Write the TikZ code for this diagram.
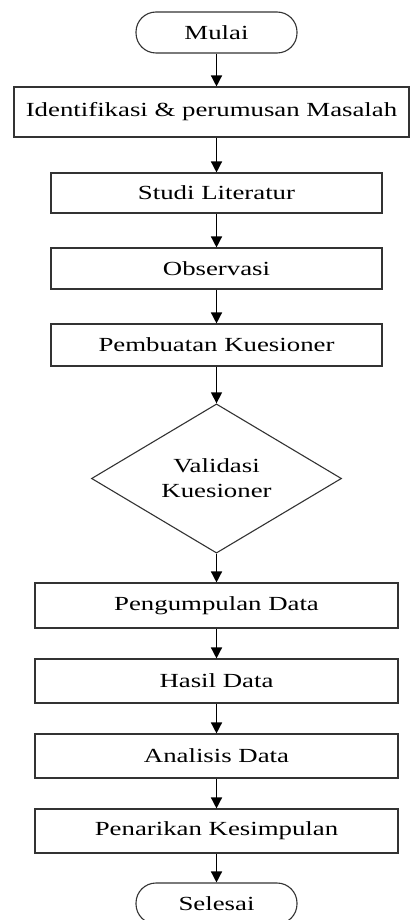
\documentclass[tikz,border=0pt]{standalone}
\usepackage{fontspec}
\setmainfont{Liberation Serif}[FakeStretch=1.34]
\usetikzlibrary{shapes.geometric,arrows.meta}

\begin{document}
\begin{tikzpicture}[x=1pt,y=-1pt,
  proses/.style={draw=black!80,line width=1.1pt,minimum height=#1,inner sep=0pt,font=\fontsize{20}{25}\selectfont},
  terminal/.style={draw=black!80,line width=1.1pt,rounded corners=20pt,minimum width=161pt,minimum height=41pt,inner sep=0pt,font=\fontsize{20}{25}\selectfont},
  keputusan/.style={draw=black!80,line width=1.1pt,diamond,minimum width=250pt,minimum height=123pt,inner sep=0pt,align=center,font=\fontsize{20}{25}\selectfont},
  panah/.style={-{Triangle[width=11pt,length=11pt]},line width=1.4pt}]
\useasboundingbox[fill=white] (0,0) rectangle (411,920);
\node[terminal] (mulai) at (216.5,32.5) {Mulai};
\node[proses=50pt,minimum width=395pt] (iden) at (211.5,112) {Identifikasi \& perumusan Masalah};
\node[proses=40pt,minimum width=331pt] (studi) at (216.5,193) {Studi Literatur};
\node[proses=41pt,minimum width=331pt] (obs) at (216.5,268.5) {Observasi};
\node[proses=42pt,minimum width=331pt] (kues) at (216.5,345) {Pembuatan Kuesioner};
\node[keputusan] (valid) at (216.5,478.5) {Validasi\\Kuesioner};
\node[proses=45pt,minimum width=363pt] (kumpul) at (216.5,605.5) {Pengumpulan Data};
\node[proses=44pt,minimum width=363pt] (hasil) at (216.5,681) {Hasil Data};
\node[proses=44pt,minimum width=363pt] (analisis) at (216.5,756) {Analisis Data};
\node[proses=44pt,minimum width=363pt] (tarik) at (216.5,831) {Penarikan Kesimpulan};
\node[terminal] (selesai) at (216.5,903.5) {Selesai};
\draw[panah] (mulai) -- (mulai |- iden.north); \draw[panah] (studi |- iden.south) -- (studi);
\draw[panah] (studi) -- (obs); \draw[panah] (obs) -- (kues);
\draw[panah] (kues) -- (valid); \draw[panah] (valid) -- (kumpul);
\draw[panah] (kumpul) -- (hasil); \draw[panah] (hasil) -- (analisis);
\draw[panah] (analisis) -- (tarik); \draw[panah] (tarik) -- (selesai);
\end{tikzpicture}
\end{document}
